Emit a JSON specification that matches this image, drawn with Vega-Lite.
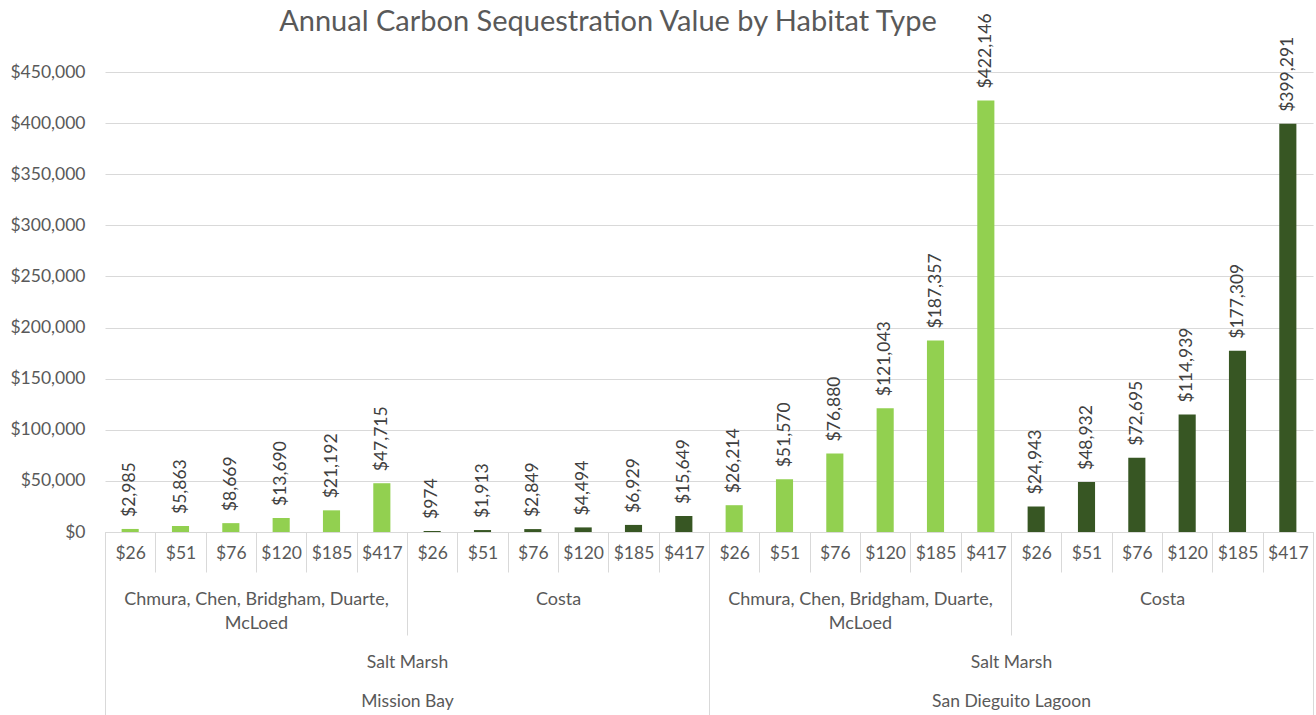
{
  "$schema": "https://vega.github.io/schema/vega-lite/v6.json",
  "width": 1208,
  "height": 460,
  "autosize": {"type": "none"},
  "padding": {"left": 105, "top": 72, "right": 3, "bottom": 183},
  "background": "white",
  "config": {
    "view": {"stroke": null},
    "font": "Lato",
    "axis": {"labelFont": "Lato", "labelFontSize": 17.5, "labelColor": "#595959", "title": null, "grid": false}
  },
  "title": {
    "text": "Annual Carbon Sequestration Value by Habitat Type",
    "font": "Lato",
    "fontSize": 29,
    "fontWeight": "normal",
    "color": "#595959",
    "anchor": "middle",
    "dx": -101,
    "dy": 28
  },
  "data": {
    "values": [
      {"site": "Mission Bay", "habitat": "Salt Marsh", "source": "Chmura, Chen, Bridgham, Duarte, McLoed", "price": "$26", "value": 2985},
      {"site": "Mission Bay", "habitat": "Salt Marsh", "source": "Chmura, Chen, Bridgham, Duarte, McLoed", "price": "$51", "value": 5863},
      {"site": "Mission Bay", "habitat": "Salt Marsh", "source": "Chmura, Chen, Bridgham, Duarte, McLoed", "price": "$76", "value": 8669},
      {"site": "Mission Bay", "habitat": "Salt Marsh", "source": "Chmura, Chen, Bridgham, Duarte, McLoed", "price": "$120", "value": 13690},
      {"site": "Mission Bay", "habitat": "Salt Marsh", "source": "Chmura, Chen, Bridgham, Duarte, McLoed", "price": "$185", "value": 21192},
      {"site": "Mission Bay", "habitat": "Salt Marsh", "source": "Chmura, Chen, Bridgham, Duarte, McLoed", "price": "$417", "value": 47715},
      {"site": "Mission Bay", "habitat": "Salt Marsh", "source": "Costa", "price": "$26", "value": 974},
      {"site": "Mission Bay", "habitat": "Salt Marsh", "source": "Costa", "price": "$51", "value": 1913},
      {"site": "Mission Bay", "habitat": "Salt Marsh", "source": "Costa", "price": "$76", "value": 2849},
      {"site": "Mission Bay", "habitat": "Salt Marsh", "source": "Costa", "price": "$120", "value": 4494},
      {"site": "Mission Bay", "habitat": "Salt Marsh", "source": "Costa", "price": "$185", "value": 6929},
      {"site": "Mission Bay", "habitat": "Salt Marsh", "source": "Costa", "price": "$417", "value": 15649},
      {"site": "San Dieguito Lagoon", "habitat": "Salt Marsh", "source": "Chmura, Chen, Bridgham, Duarte, McLoed", "price": "$26", "value": 26214},
      {"site": "San Dieguito Lagoon", "habitat": "Salt Marsh", "source": "Chmura, Chen, Bridgham, Duarte, McLoed", "price": "$51", "value": 51570},
      {"site": "San Dieguito Lagoon", "habitat": "Salt Marsh", "source": "Chmura, Chen, Bridgham, Duarte, McLoed", "price": "$76", "value": 76880},
      {"site": "San Dieguito Lagoon", "habitat": "Salt Marsh", "source": "Chmura, Chen, Bridgham, Duarte, McLoed", "price": "$120", "value": 121043},
      {"site": "San Dieguito Lagoon", "habitat": "Salt Marsh", "source": "Chmura, Chen, Bridgham, Duarte, McLoed", "price": "$185", "value": 187357},
      {"site": "San Dieguito Lagoon", "habitat": "Salt Marsh", "source": "Chmura, Chen, Bridgham, Duarte, McLoed", "price": "$417", "value": 422146},
      {"site": "San Dieguito Lagoon", "habitat": "Salt Marsh", "source": "Costa", "price": "$26", "value": 24943},
      {"site": "San Dieguito Lagoon", "habitat": "Salt Marsh", "source": "Costa", "price": "$51", "value": 48932},
      {"site": "San Dieguito Lagoon", "habitat": "Salt Marsh", "source": "Costa", "price": "$76", "value": 72695},
      {"site": "San Dieguito Lagoon", "habitat": "Salt Marsh", "source": "Costa", "price": "$120", "value": 114939},
      {"site": "San Dieguito Lagoon", "habitat": "Salt Marsh", "source": "Costa", "price": "$185", "value": 177309},
      {"site": "San Dieguito Lagoon", "habitat": "Salt Marsh", "source": "Costa", "price": "$417", "value": 399291}
    ]
  },
  "transform": [
    {"calculate": "datum.site + '|' + datum.source + '|' + datum.price", "as": "barKey"},
    {"calculate": "datum.site + '|' + datum.source", "as": "groupKey"},
    {"calculate": "datum.habitat + '|' + datum.site", "as": "siteKey"}
  ],
  "layer": [
    {
      "layer": [
        {
          "mark": {"type": "bar", "width": {"band": 0.34}},
          "encoding": {
            "x": {
              "field": "barKey", "type": "nominal", "sort": null,
              "scale": {"paddingInner": 0, "paddingOuter": 0},
              "axis": {
                "orient": "bottom",
                "labelExpr": "indexof(datum.label + '', '|') >= 0 ? split(datum.label, '|')[2] : ''",
                "labelAngle": 0,
                "labelBaseline": "middle",
                "labelPadding": -19,
                "labelOverlap": false,
                "tickBand": "extent",
                "tickSize": 40,
                "tickColor": "#D9D9D9",
                "domainColor": "#D9D9D9",
                "ticks": true,
                "domain": true
              }
            },
            "y": {
              "field": "value", "type": "quantitative",
              "scale": {"domain": [0, 450000], "nice": false},
              "axis": {
                "values": [0, 50000, 100000, 150000, 200000, 250000, 300000, 350000, 400000, 450000],
                "format": "$,.0f",
                "grid": true,
                "gridColor": "#D9D9D9",
                "domain": false,
                "ticks": false,
                "labelPadding": 20
              }
            },
            "color": {
              "field": "source", "type": "nominal",
              "scale": {"domain": ["Chmura, Chen, Bridgham, Duarte, McLoed", "Costa"], "range": ["#92D050", "#375623"]},
              "legend": null
            }
          }
        },
        {
          "mark": {"type": "text", "angle": 270, "align": "left", "baseline": "middle", "dx": 12, "font": "Lato", "fontSize": 17.5, "color": "#404040"},
          "encoding": {
            "x": {"field": "barKey", "type": "nominal", "sort": null},
            "y": {"field": "value", "type": "quantitative"},
            "text": {"field": "value", "type": "quantitative", "format": "$,.0f"}
          }
        }
      ]
    },
    {
      "mark": {"type": "rule", "opacity": 0},
      "encoding": {
        "x": {
          "field": "groupKey", "type": "nominal", "sort": null,
          "scale": {"paddingInner": 0, "paddingOuter": 0},
          "axis": {
            "orient": "bottom",
            "labelExpr": "indexof(datum.label + '', '|') >= 0 ? split(replace(split(datum.label, '|')[1], 'Duarte, ', 'Duarte,|'), '|') : ''",
            "labelAngle": 0,
            "labelFontSize": 18,
            "labelBaseline": "top",
            "labelLineHeight": 24,
            "labelPadding": -44.5,
            "labelLimit": 0,
            "labelOverlap": false,
            "tickBand": "extent",
            "tickSize": 103,
            "tickColor": "#D9D9D9",
            "domain": false
          }
        }
      }
    },
    {
      "mark": {"type": "rule", "opacity": 0},
      "encoding": {
        "x": {
          "field": "siteKey", "type": "nominal", "sort": null,
          "scale": {"paddingInner": 0, "paddingOuter": 0},
          "axis": {
            "orient": "bottom",
            "labelExpr": "indexof(datum.label + '', '|') >= 0 ? split(datum.label, '|') : ''",
            "labelAngle": 0,
            "labelBaseline": "top",
            "labelLineHeight": 39,
            "labelPadding": -61.5,
            "labelLimit": 0,
            "labelOverlap": false,
            "tickBand": "extent",
            "tickSize": 183,
            "tickColor": "#D9D9D9",
            "domain": false
          }
        }
      }
    }
  ],
  "resolve": {"scale": {"x": "independent"}, "axis": {"x": "independent"}}
}
